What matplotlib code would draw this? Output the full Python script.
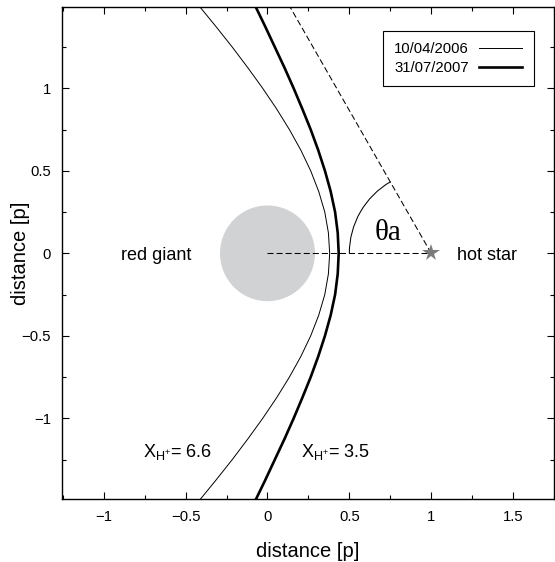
import numpy as np
import matplotlib
matplotlib.use("Agg")
import matplotlib.pyplot as plt
from matplotlib.patches import Circle, Arc

plt.rcParams['font.family'] = ['Liberation Sans', 'DejaVu Sans']
plt.rcParams['mathtext.fontset'] = 'custom'
plt.rcParams['mathtext.rm'] = 'Liberation Sans'
plt.rcParams['mathtext.it'] = 'Liberation Sans'

# ---- data ----
y_pts = [-1.5, -1.375, -1.25, -1.125, -1.0, -0.875, -0.75, -0.625, -0.5, -0.375, -0.25, -0.125,
         0.0, 0.125, 0.25, 0.375, 0.5, 0.625, 0.75, 0.875, 1.0, 1.125, 1.25, 1.375, 1.5]
x_2006 = [-0.418, -0.315, -0.215, -0.120, -0.029, 0.056, 0.134, 0.204, 0.264, 0.313, 0.350, 0.372,
          0.380, 0.372, 0.350, 0.313, 0.264, 0.204, 0.134, 0.056, -0.029, -0.120, -0.215, -0.315, -0.418]
x_2007 = [-0.075, -0.014, 0.045, 0.104, 0.160, 0.213, 0.264, 0.310, 0.351, 0.386, 0.413, 0.429,
          0.435, 0.429, 0.413, 0.386, 0.351, 0.310, 0.264, 0.213, 0.160, 0.104, 0.045, -0.014, -0.075]
series_labels = ['10/04/2006', '31/07/2007']
giant_pos = (0.0, 0.0)
giant_radius = 0.29
star_pos = (1.0, 0.0)
theta_a_deg = 60.0
arc_radius = 0.5
ion_labels = [r'X$_{\mathrm{H}^{+}}$= 6.6', r'X$_{\mathrm{H}^{+}}$= 3.5']
xticks = [-1, -0.5, 0, 0.5, 1, 1.5]
yticks = [-1, -0.5, 0, 0.5, 1]
xtick_labels = ['\u22121', '\u22120.5', '0', '0.5', '1', '1.5']
ytick_labels = ['\u22121', '\u22120.5', '0', '0.5', '1']

fig = plt.figure(figsize=(5.55, 5.62), dpi=100)
ax = fig.add_axes([62/555, 1 - 499/562, (554-62)/555, (499-7)/562])
ax.set_xlim(-1.255, 1.727)
ax.set_ylim(-1.489, 1.493)

# red giant
ax.add_patch(Circle(giant_pos, giant_radius, facecolor='#d1d2d4', edgecolor='none', zorder=1))

# shock curves
ax.plot(x_2006, y_pts, color='black', lw=0.7, label=series_labels[0], zorder=3)
ax.plot(x_2007, y_pts, color='black', lw=1.9, label=series_labels[1], zorder=3)

# dashed lines
dash = (0, (5.8, 2.9))
ax.plot([giant_pos[0], star_pos[0]], [giant_pos[1], star_pos[1]], color='black', lw=0.75,
        linestyle=dash, zorder=2)
t = 1.8
th = np.deg2rad(theta_a_deg)
ax.plot([star_pos[0], star_pos[0] - t*np.cos(th)], [star_pos[1], star_pos[1] + t*np.sin(th)],
        color='black', lw=0.75, linestyle=dash, zorder=2)
ax.add_patch(Arc(star_pos, 2*arc_radius, 2*arc_radius, theta1=180 - theta_a_deg, theta2=180,
                 color='black', lw=0.75, zorder=2))

# hot star
ax.plot([star_pos[0]], [star_pos[1]], marker='*', color='#7a7a7a', markersize=13,
        markeredgewidth=0, zorder=4)

# texts
ax.text(-0.893, -0.041, 'red giant', fontsize=13, ha='left', va='baseline')
ax.text(1.158, -0.041, 'hot star', fontsize=13, ha='left', va='baseline')
ax.text(0.738, 0.081, '\u03b8a', fontsize=21, ha='center', va='baseline',
        family=['Liberation Serif', 'DejaVu Serif'])
ax.text(-0.762, -1.235, ion_labels[0], fontsize=13, ha='left', va='baseline')
ax.text(0.206, -1.235, ion_labels[1], fontsize=13, ha='left', va='baseline')

# ticks
ax.set_xticks(xticks)
ax.set_xticklabels(xtick_labels)
ax.set_yticks(yticks)
ax.set_yticklabels(ytick_labels)
ax.set_xticks(np.arange(-1.25, 1.76, 0.25), minor=True)
ax.set_yticks(np.arange(-1.25, 1.26, 0.25), minor=True)
ax.tick_params(which='both', direction='in', top=True, right=True, labelsize=10.7, width=0.8)
ax.tick_params(which='major', length=5, pad=8)
ax.tick_params(which='minor', length=3)
for s in ax.spines.values():
    s.set_linewidth(1.0)

ax.set_xlabel('distance [p]', fontsize=14.5, labelpad=13)
ax.set_ylabel('distance [p]', fontsize=14.5)
ax.yaxis.set_label_coords(-0.065, 0.5)

leg = ax.legend(loc='upper right', bbox_to_anchor=((533.5-62)/492, 1 - (30.7-7)/492),
                markerfirst=False, fontsize=10.7, handlelength=2.9, handletextpad=0.7,
                borderpad=0.75, labelspacing=0.35, fancybox=False, framealpha=1,
                edgecolor='black', borderaxespad=0)
leg.get_frame().set_linewidth(0.8)

fig.savefig('out.png', dpi=100)
